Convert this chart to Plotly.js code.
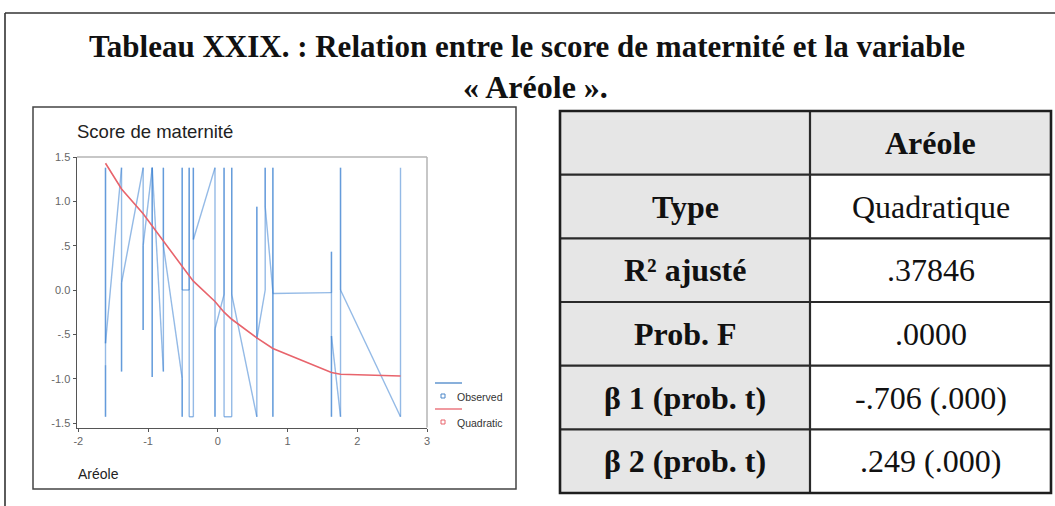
<!DOCTYPE html>
<html>
<head>
<meta charset="utf-8">
<script src="https://cdn.plot.ly/plotly-3.0.1.min.js"></script>
<style>
  html, body { margin: 0; padding: 0; background: #ffffff; }
  #chart { width: 1055px; height: 506px; }
</style>
</head>
<body>
<div id="chart"></div>
<script>
// Areole values (x) and maternity scores (y), in plotting order
const areole = [
  -1.61, -1.61, -1.61, -1.61,
  -1.38, -1.38, -1.38,
  -1.07, -1.07, -1.07,
  -0.94, -0.94, -0.94, -0.94,
  -0.78, -0.78, -0.78,
  -0.51, -0.51, -0.51, -0.51,
  -0.41, -0.41, -0.41,
  -0.35, -0.35, -0.35,
  -0.04, -0.04, -0.04,
  0.09, 0.09, 0.09,
  0.20, 0.20, 0.20,
  0.56, 0.56, 0.56,
  0.68, 0.68, 0.68,
  0.79, 0.79, 0.79, 0.79,
  1.63, 1.63, 1.63, 1.63,
  1.76, 1.76, 1.76,
  2.62, 2.62
];
const maternityScore = [
  -0.85, -1.43, 1.38, -0.60,
  1.38, -0.92, 0.08,
  1.38, -0.45, 0.50,
  1.38, -0.98, 0.62, 1.38,
  -0.92, 1.38, 0.50,
  -1.00, -1.43, 1.38, 0.00,
  0.00, 1.38, -1.43,
  -1.43, 1.38, 0.57,
  1.38, -1.43, -0.44,
  -0.05, 1.38, -1.43,
  -1.43, 1.38, -0.05,
  -1.43, 0.94, -0.55,
  0.00, 1.38, 0.94,
  -0.02, -1.43, 1.38, -0.04,
  -0.03, 0.43, -1.43, -0.52,
  -1.43, 1.38, 0.00,
  -1.43, 1.38
];

// Quadratic fit evaluated at each distinct Areole value
const fitAreole = [-1.61, -1.38, -1.07, -0.94, -0.78, -0.51, -0.41, -0.35, -0.04, 0.09, 0.20, 0.56, 0.68, 0.79, 1.63, 1.76, 2.62];
const fitScore  = [1.43, 1.14, 0.86, 0.72, 0.55, 0.26, 0.16, 0.10, -0.13, -0.25, -0.33, -0.54, -0.60, -0.66, -0.93, -0.95, -0.97];

// Axis ticks
const xTickVals = [-2, -1, 0, 1, 2, 3];
const xTickText = ['-2', '-1', '0', '1', '2', '3'];
const yTickVals = [-1.5, -1.0, -0.5, 0, 0.5, 1.0, 1.5];
const yTickText = ['-1.5', '-1.0', '-.5', '0.0', '.5', '1.0', '1.5'];

// Summary table
const tableHeader = 'Aréole';
const rowLabels = ['Type', 'R² ajusté', 'Prob. F', 'β 1 (prob. t)', 'β 2 (prob. t)'];
const rowValues = ['Quadratique', '.37846', '.0000', '-.706 (.000)', '.249 (.000)'];

const titleLines = ['Tableau XXIX. : Relation entre le score de maternité et la variable', '« Aréole ».'];

const W = 1055, H = 506;
const px = v => v / W;
const py = v => 1 - v / H;

// Observed series: one trace per segment so retraced strokes darken like ink
const traces = [];
for (let i = 0; i < areole.length - 1; i++) {
  traces.push({
    type: 'scatter', mode: 'lines',
    x: [areole[i], areole[i + 1]],
    y: [maternityScore[i], maternityScore[i + 1]],
    line: { color: 'rgba(60,130,210,0.55)', width: 1.4 },
    hoverinfo: 'skip', showlegend: false
  });
}
traces.push({
  type: 'scatter', mode: 'lines',
  x: fitAreole, y: fitScore,
  line: { color: '#e8646c', width: 1.6 },
  showlegend: false
});

const serif = 'Liberation Serif, Times New Roman, serif';
const sans = 'Liberation Sans, Arial, sans-serif';

const shapes = [];
const annotations = [];

// Page frame
shapes.push({ type: 'line', xref: 'paper', yref: 'paper', x0: px(5), x1: px(5), y0: py(506), y1: py(13), line: { color: '#333', width: 1.6 } });
shapes.push({ type: 'line', xref: 'paper', yref: 'paper', x0: px(5), x1: px(1055), y0: py(13), y1: py(13), line: { color: '#333', width: 1.6 } });

// Heading
annotations.push({ xref: 'paper', yref: 'paper', x: px(527), y: py(46), xanchor: 'center', yanchor: 'middle', showarrow: false,
  text: '<b>' + titleLines[0] + '</b>', font: { family: serif, size: 31, color: '#111' } });
annotations.push({ xref: 'paper', yref: 'paper', x: px(535), y: py(87), xanchor: 'center', yanchor: 'middle', showarrow: false,
  text: '<b>' + titleLines[1] + '</b>', font: { family: serif, size: 32, color: '#111' } });

// Chart panel border
shapes.push({ type: 'rect', xref: 'paper', yref: 'paper', x0: px(33), x1: px(516), y0: py(489), y1: py(107), line: { color: '#444', width: 1.5 }, fillcolor: 'rgba(0,0,0,0)' });

// Plot frame: light top and right edges
shapes.push({ type: 'line', xref: 'paper', yref: 'paper', x0: px(77), x1: px(427), y0: py(157), y1: py(157), line: { color: '#b5b5b5', width: 1.5 } });
shapes.push({ type: 'line', xref: 'paper', yref: 'paper', x0: px(427), x1: px(427), y0: py(157), y1: py(427.5), line: { color: '#b5b5b5', width: 1.5 } });

// Axis captions
annotations.push({ xref: 'paper', yref: 'paper', x: px(75), y: py(131), xanchor: 'left', yanchor: 'middle', showarrow: false,
  text: 'Score de maternité', font: { family: sans, size: 18.5, color: '#222' } });
annotations.push({ xref: 'paper', yref: 'paper', x: px(76), y: py(474), xanchor: 'left', yanchor: 'middle', showarrow: false,
  text: 'Aréole', font: { family: sans, size: 14, color: '#222' } });

// Legend
const legendItems = [
  { name: 'Observed', color: '#4a86c8', lineY: 383, rowY: 396 },
  { name: 'Quadratic', color: '#e8646c', lineY: 409, rowY: 422 }
];
legendItems.forEach(it => {
  shapes.push({ type: 'line', xref: 'paper', yref: 'paper', x0: px(435), x1: px(462), y0: py(it.lineY), y1: py(it.lineY), line: { color: it.color, width: 1.3 } });
  shapes.push({ type: 'rect', xref: 'paper', yref: 'paper', x0: px(441), x1: px(445), y0: py(it.rowY + 2), y1: py(it.rowY - 2), line: { color: it.color, width: 1 }, fillcolor: 'rgba(255,255,255,0)' });
  annotations.push({ xref: 'paper', yref: 'paper', x: px(455), y: py(it.rowY + 1), xanchor: 'left', yanchor: 'middle', showarrow: false,
    text: it.name, font: { family: sans, size: 10.5, color: '#333' } });
});

// Summary table
const tL = 560, tM = 810, tR = 1051, tT = 111, tB = 493;
const rowH = (tB - tT) / (rowLabels.length + 1);
const shade = '#e6e6e6';
// header cells
shapes.push({ type: 'rect', xref: 'paper', yref: 'paper', x0: px(tL), x1: px(tR), y0: py(tT + rowH), y1: py(tT), line: { width: 0 }, fillcolor: shade, layer: 'below' });
// label column
shapes.push({ type: 'rect', xref: 'paper', yref: 'paper', x0: px(tL), x1: px(tM), y0: py(tB), y1: py(tT + rowH), line: { width: 0 }, fillcolor: shade, layer: 'below' });
// grid
for (let r = 1; r <= rowLabels.length; r++) {
  const yy = tT + r * rowH;
  shapes.push({ type: 'line', xref: 'paper', yref: 'paper', x0: px(tL), x1: px(tR), y0: py(yy), y1: py(yy), line: { color: '#2a2a2a', width: 2.2 } });
}
shapes.push({ type: 'line', xref: 'paper', yref: 'paper', x0: px(tM), x1: px(tM), y0: py(tT), y1: py(tB), line: { color: '#2a2a2a', width: 2.2 } });
shapes.push({ type: 'rect', xref: 'paper', yref: 'paper', x0: px(tL), x1: px(tR), y0: py(tB), y1: py(tT), line: { color: '#1e1e1e', width: 2.6 }, fillcolor: 'rgba(0,0,0,0)' });

const cellFont = 32;
annotations.push({ xref: 'paper', yref: 'paper', x: px((tM + tR) / 2), y: py(tT + rowH / 2), xanchor: 'center', yanchor: 'middle', showarrow: false,
  text: '<b>' + tableHeader + '</b>', font: { family: serif, size: cellFont, color: '#111' } });
rowLabels.forEach((lab, i) => {
  const cy = tT + (i + 1.5) * rowH;
  annotations.push({ xref: 'paper', yref: 'paper', x: px((tL + tM) / 2), y: py(cy), xanchor: 'center', yanchor: 'middle', showarrow: false,
    text: '<b>' + lab + '</b>', font: { family: serif, size: cellFont, color: '#111' } });
  annotations.push({ xref: 'paper', yref: 'paper', x: px((tM + tR) / 2), y: py(cy), xanchor: 'center', yanchor: 'middle', showarrow: false,
    text: rowValues[i], font: { family: serif, size: cellFont, color: '#111' } });
});

const xScale = (427 - 78.3) / 5;
const yScale = (423 - 157) / 3;

const layout = {
  width: W, height: H,
  margin: { l: 0, r: 0, t: 0, b: 0, pad: 0 },
  paper_bgcolor: '#ffffff', plot_bgcolor: '#ffffff',
  showlegend: false,
  xaxis: {
    domain: [px(77), px(427)],
    range: [-2 - (78.3 - 77) / xScale, 3],
    tickmode: 'array', tickvals: xTickVals, ticktext: xTickText,
    showgrid: false, zeroline: false,
    showline: true, linecolor: '#555', linewidth: 1.5,
    ticks: 'outside', ticklen: 3, tickcolor: '#555',
    tickfont: { family: sans, size: 11, color: '#666' },
    fixedrange: true
  },
  yaxis: {
    domain: [py(427.5), py(157)],
    range: [-1.5 - (427.5 - 423) / yScale, 1.5],
    tickmode: 'array', tickvals: yTickVals, ticktext: yTickText,
    showgrid: false, zeroline: false,
    showline: true, linecolor: '#555', linewidth: 1.5,
    ticks: 'outside', ticklen: 3, tickcolor: '#555',
    tickfont: { family: sans, size: 11, color: '#666' },
    fixedrange: true
  },
  shapes: shapes,
  annotations: annotations
};

Plotly.newPlot('chart', traces, layout, { displayModeBar: false, staticPlot: true });
</script>
</body>
</html>
